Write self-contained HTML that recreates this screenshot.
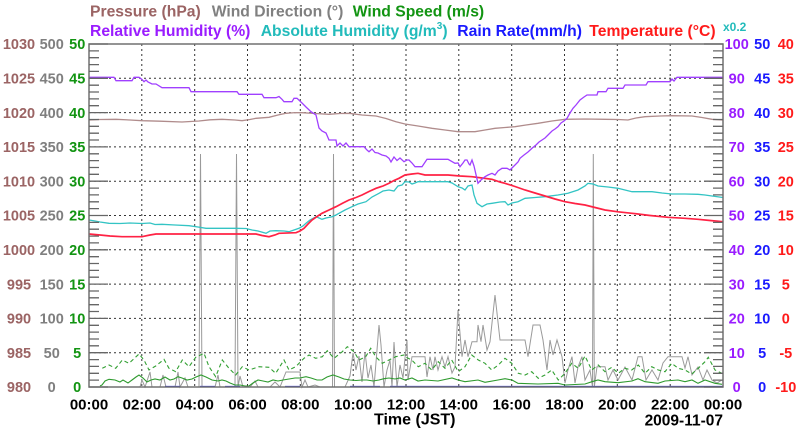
<!DOCTYPE html>
<html><head><meta charset="utf-8"><style>
html,body{margin:0;padding:0;background:#fff;}
svg{display:block;font-family:"Liberation Sans",Arial,sans-serif;font-weight:bold;}
</style></head><body>
<svg width="800" height="434" viewBox="0 0 800 434" xmlns="http://www.w3.org/2000/svg">
<rect width="800" height="434" fill="#fff"/>
<!-- legend -->
<g font-size="15.7">
<text x="90" y="16.5" fill="#9b6464">Pressure (hPa)</text>
<text x="211.7" y="16.5" fill="#808080">Wind Direction (°)</text>
<text x="352.7" y="16.5" fill="#129412">Wind Speed (m/s)</text>
<text x="90" y="36" fill="#9a1cff">Relative Humidity (%)</text>
<text x="260.7" y="36" fill="#22bbbb">Absolute Humidity (g/m<tspan font-size="10" dy="-7">3</tspan><tspan dy="7">)</tspan></text>
<text x="457.3" y="36" fill="#1a1aff">Rain Rate(mm/h)</text>
<text x="589.3" y="36" fill="#ff1a1a">Temperature (°C)</text>
</g>
<text x="723" y="31" font-size="12" fill="#22bbbb">x0.2</text>
<!-- grid -->
<g stroke="#333" stroke-width="1" stroke-dasharray="2,3" fill="none">
<path d="M141.8 44V387M194.7 44V387M247.5 44V387M300.3 44V387M353.2 44V387M406 44V387M458.8 44V387M511.7 44V387M564.5 44V387M617.3 44V387M670.2 44V387"/>
<path d="M89 78.3H723M89 112.6H723M89 146.9H723M89 181.2H723M89 215.5H723M89 249.8H723M89 284.1H723M89 318.4H723M89 352.7H723"/>
</g>
<!-- wind direction -->
<polyline fill="none" stroke="#9a9a9a" stroke-width="1" points="89,387 140,387 142,380 145,387 150,372 152,387 160,387 163,375 166,387 175,387 178,372 180,387 185,378 188,387 199,387 200.5,154 202,387 215,387 218,375 220,387 235,387 236.5,154 238,387 240,376 243,387 250,387 255,381 258,387 270,387 275,382 280,387 286,372 300,372 302,387 305,380 308,387 315,385 320,387 332.5,387 333.5,154 334.5,387 345,387 350,376 353,353 356,370 359,356 362,382 365,352 368,378 371,365 374,387 377,350 379,325 381,345 384,387 387,370 390,360 392,387 394,342 397,387 400,365 403,378 405,358 407,340 408,380 412,356.7 425,356.7 427,377 430,356.7 433,370 435,356.7 438,370 442,356.7 445,367 448,356.7 452,373 455,367 458,310 462,356.7 465,340 468,356.7 472,341.7 477,341.7 478,325 481,341.7 483,325 487,350 490,341.7 495,295 500,340 525,340 528,356.7 533,325 540,325 543,340 547,370 550,340 553,355 557,340 562,356.7 565,383 568,370 572,356.7 575,383 578,367 582,356.7 585,380 590,370 592.5,387 593.3,154 594.3,387 597,366.7 605,366.7 608,380 613,370 618,380 625,367 632,380 638,356.7 642,356.7 646,380 652,370 658,380 663,363 668,356.7 682,356.7 685,368 688,356.7 692,375 698,367 703,380 707,370 712,380 717,383 722,380"/>
<!-- wind speed gust dashed -->
<polyline fill="none" stroke="#33a033" stroke-width="1.1" stroke-dasharray="4,3" points="102.3,368.3 109,365 115.7,368.3 122.3,360 129,363.3 139,354 144,360 149,370 155.7,366 164,359.3 169,368.3 175.7,371.7 182.3,360 189,366.7 195.7,357.3 204,353.3 209,366.7 215.7,376.7 222.3,360 229,368.3 235.7,375 242.3,366.7 249,370 259,366.7 269,367.3 275.7,373.3 284,360 289,370 295.7,366.7 304,358.3 309,355 315.7,358.3 322.3,356.7 327.3,350.7 334,358.3 342.3,351.7 347.3,346.7 354,351.7 359,360 365.7,356.7 370.7,348.3 375.7,356.7 382.3,363.3 389,360 395.7,356.7 404,355 405,356.7 411.7,360 418.3,366.7 425,363.3 431.7,370 438.3,361.7 445,368.3 451.7,360 458.3,371.7 465,366.7 471.7,355 478.3,360 485,363.3 491.7,370 498.3,365 505,358.3 511.7,363.3 518.3,373.3 525,375 531.7,371.7 538.3,378.3 545,375 551.7,370 558.3,380 565,373.3 571.7,363.3 578.3,368.3 585,356 591.7,370 598.3,365 605,371.7 611.7,367.3 618.3,373.3 625,368.3 631.7,370 638.3,365 645,373.3 651.7,366.7 658.3,370 665,371.7 671.7,363.3 678.3,368.3 685,370 691.7,374 698.3,368.3 705,361.7 708.3,357.3 715,370 721.7,373.3"/>
<!-- wind speed solid -->
<polyline fill="none" stroke="#2e9a2e" stroke-width="1.1" points="100,386 102,385 105,381 109,379.3 115,380 120,382 123,380 128,383 132,380 136,377 139,375 143,378 147,382 151,380 155,379 160,380 165,377 170,380 174,379 178,376.7 182,378 187,380 192,379 196,377 201,375 206,377 212,380 218,381 222,380 226,381 230,383 235,385 240,385 245,386 249,386 253,383 258,380 263,381 268,382 273,380 278,381 283,380 289,379 295,378 300,378 306,376.7 311,378 317,380 322,380 327,377 333,375 339,377 344,379 350,380 356,380.5 362,380 367,380 373,381 379,380 384,378.7 389,378 395,379 400,378 405,380 412,378 418,381 425,380 438,381 452,378 458,380 465,381.7 478,380 485,382.3 498,380 505,378.7 512,380 518,383.3 538,384 558,383.3 565,385 585,384 592,381.7 598,380 605,381.7 618,382.7 632,381 638,378.7 645,381.7 658,383.3 665,381 678,380 685,381.7 692,380 698,383.3 705,380 715,383.3 722,384.3"/>
<!-- rain -->
<path d="M165 386.5H180M200 386.5H215M225 386.5H240M285 386.5H300M350 386.5H380M390 386.5H723" stroke="#3333dd" stroke-width="1.3" fill="none"/>
<!-- pressure -->
<polyline fill="none" stroke="#b08c8c" stroke-width="1.3" points="89,120 100,119.5 116,119.3 130,120 142,120.7 160,121.2 182,122 199,121 210,119.8 222,119.3 235,120 242,120.7 250,119.5 256,118.3 269,117.3 278,115 286,113.3 295,112.6 302,112.7 315,113.5 329,114.3 340,113.5 349,113.3 362,115 376,116 386,118.5 396,121.7 405,124 418,126 432,128.3 445,130 458,131.7 475,131.7 485,130 495,128.3 505,127.5 515,126.7 526,125 538,123.3 552,121 565,119.3 585,119 605,119.3 618,119.5 628,120 636,118 645,116.7 660,116 672,115.7 692,116 702,117.5 712,119.3 723,120"/>
<!-- absolute humidity -->
<polyline fill="none" stroke="#33c4c4" stroke-width="1.3" points="89,220 95,221 100,222 109,223.3 120,223.5 130,223 142,223.5 150,223 155,224.5 162,224.3 175,225 189,225.7 198,227 206,228.3 220,228.3 235,228.3 246,228.5 252,230 258,231 266,233.3 270,231 276,230.7 284,231 289,231.7 294,230 299,228.3 303,226 306,223.3 310,220 316,216.7 319,218 322,219.3 326,218 332,216.7 336,215 339,213.3 345,210 352,206.7 358,204 366,201.7 372,197 379,193.3 383,191 389,190 394,191 398,186 402,185 405,181.7 409,182 412,184 415,183 418,181.7 448,181.7 452,183 458,186.7 462,188 465,190 468,186 472,185 474,195 477,203.3 482,206.7 487,204 492,203.3 500,202 505,201.7 508,205 512,203 518,201.7 525,198.3 535,197.5 545,196.7 558,195 568,193.3 578,190 585,186 588,183.3 593,184 598,186 608,187 618,188.3 625,190 632,191.7 652,191.7 662,193 672,194 685,194 698,194.3 705,195 712,196 723,197.5"/>
<!-- temperature -->
<polyline fill="none" stroke="#ff2244" stroke-width="1.7" points="89,234 100,235 110,236 122,236.7 142,236.7 150,235 156,234 200,234 256,234 262,235.5 269,236.7 275,235 279,233.3 296,232.7 300,231 304,228.3 308,224 312,220 317,216.5 322,213.3 329,210 336,206.7 343,203 349,200 356,197.5 362,195 369,191.5 376,188.3 383,186 389,183.3 394,180.5 399,178.3 405,175 412,174 418,173.3 425,175 448,175 460,176 472,176.7 482,178 492,179.3 500,182 505,183.3 515,186.5 525,190 535,193 545,196 555,199 565,201.7 575,203.5 585,205 595,207.5 605,210 618,211.8 632,213.3 650,215.5 668,217.3 685,218.3 698,219.3 710,220.5 723,221.7"/>
<!-- relative humidity -->
<polyline fill="none" stroke="#a040ff" stroke-width="1.3" points="89,77.3 114,77.3 116,80.7 132,80.7 134,77.3 139,77.3 142,79.5 144,81.7 146,80 148,82 152,84 156,84 162,87.7 189,87.7 191,91.7 237,91.7 239,94.3 262,94.3 264,97.7 276,97.7 279,96.5 282,99.3 284,101.7 292,101.7 294,98.3 297,98.3 302,103 306,107 311,111.7 316,115 319,128 322,131 326,133 329,140 336,140 337,146 340,143 343,146 346,143 349,146.7 364,146.7 367,150 369,151.7 372,149 375,152.5 378,153 382,155 386,156 389,158.3 391,162 394,157 397,160.5 400,158 404,161.7 407,160 409,160 412,163 415,166.7 422,166.7 427,159.3 448,159.3 455,163.3 458,163 460,166.7 463,163 465,160 467,160 469,164 470,165 472,160 474,166 478,183.3 481,180 485,176.7 488,175 492,173.3 495,175 498,171 502,168.3 507,168.3 510,170 512,168 515,165 518,162 520,158.3 524,155 528,152 532,148.3 536,145 539,142 542,140 545,138 548,135 552,131 555,129 558,126.7 561,123 564,121 567,118.3 570,113 573,108.3 576,105 580,100 584,97 587,95 597,95 598,91.7 606,91.7 608,88.3 623,88.3 625,85 646,85 648,81.7 670,81.7 672,79 674,81 677,77.3 723,77.3"/>
<!-- frame -->
<rect x="89" y="44" width="634" height="343" fill="none" stroke="#707070" stroke-width="1.5"/>
<!-- ticks -->
<g stroke="#666" stroke-width="1.3" fill="none">
<path d="M89 387h19M89 352.7h19M89 318.4h19M89 284.1h19M89 249.8h19M89 215.5h19M89 181.2h19M89 146.9h19M89 112.6h19M89 78.3h19M89 44h19"/>
<path d="M723 387h-19M723 352.7h-19M723 318.4h-19M723 284.1h-19M723 249.8h-19M723 215.5h-19M723 181.2h-19M723 146.9h-19M723 112.6h-19M723 78.3h-19M723 44h-19"/>
<path d="M89 380.1h10M89 373.3h10M89 366.4h10M89 359.6h10M89 345.8h10M89 339h10M89 332.1h10M89 325.3h10M89 311.5h10M89 304.7h10M89 297.8h10M89 291h10M89 277.2h10M89 270.4h10M89 263.5h10M89 256.7h10M89 242.9h10M89 236.1h10M89 229.2h10M89 222.4h10M89 208.6h10M89 201.8h10M89 194.9h10M89 188.1h10M89 174.3h10M89 167.5h10M89 160.6h10M89 153.8h10M89 140h10M89 133.2h10M89 126.3h10M89 119.5h10M89 105.7h10M89 98.9h10M89 92h10M89 85.2h10M89 71.4h10M89 64.6h10M89 57.7h10M89 50.9h10"/>
<path d="M723 380.1h-10M723 373.3h-10M723 366.4h-10M723 359.6h-10M723 345.8h-10M723 339h-10M723 332.1h-10M723 325.3h-10M723 311.5h-10M723 304.7h-10M723 297.8h-10M723 291h-10M723 277.2h-10M723 270.4h-10M723 263.5h-10M723 256.7h-10M723 242.9h-10M723 236.1h-10M723 229.2h-10M723 222.4h-10M723 208.6h-10M723 201.8h-10M723 194.9h-10M723 188.1h-10M723 174.3h-10M723 167.5h-10M723 160.6h-10M723 153.8h-10M723 140h-10M723 133.2h-10M723 126.3h-10M723 119.5h-10M723 105.7h-10M723 98.9h-10M723 92h-10M723 85.2h-10M723 71.4h-10M723 64.6h-10M723 57.7h-10M723 50.9h-10"/>
</g>
<!-- left labels -->
<g font-size="14.5" text-anchor="middle">
<g fill="#9b6464">
<text x="19" y="49.2">1030</text><text x="19" y="83.5">1025</text><text x="19" y="117.8">1020</text><text x="19" y="152.1">1015</text><text x="19" y="186.4">1010</text><text x="19" y="220.7">1005</text><text x="19" y="255">1000</text><text x="19" y="289.3">995</text><text x="19" y="323.6">990</text><text x="19" y="357.9">985</text><text x="19" y="392.2">980</text>
</g>
<g fill="#7f7f7f">
<text x="51.7" y="49.2">500</text><text x="51.7" y="83.5">450</text><text x="51.7" y="117.8">400</text><text x="51.7" y="152.1">350</text><text x="51.7" y="186.4">300</text><text x="51.7" y="220.7">250</text><text x="51.7" y="255">200</text><text x="51.7" y="289.3">150</text><text x="51.7" y="323.6">100</text><text x="51.7" y="357.9">50</text><text x="51.7" y="392.2">0</text>
</g>
<g fill="#129412">
<text x="77.2" y="49.2">50</text><text x="77.2" y="83.5">45</text><text x="77.2" y="117.8">40</text><text x="77.2" y="152.1">35</text><text x="77.2" y="186.4">30</text><text x="77.2" y="220.7">25</text><text x="77.2" y="255">20</text><text x="77.2" y="289.3">15</text><text x="77.2" y="323.6">10</text><text x="77.2" y="357.9">5</text><text x="77.2" y="392.2">0</text>
</g>
<!-- right labels -->
<g fill="#9a1cff">
<text x="736.7" y="49.2">100</text><text x="736.7" y="83.5">90</text><text x="736.7" y="117.8">80</text><text x="736.7" y="152.1">70</text><text x="736.7" y="186.4">60</text><text x="736.7" y="220.7">50</text><text x="736.7" y="255">40</text><text x="736.7" y="289.3">30</text><text x="736.7" y="323.6">20</text><text x="736.7" y="357.9">10</text><text x="736.7" y="392.2">0</text>
</g>
<g fill="#1a1aff">
<text x="762.2" y="49.2">50</text><text x="762.2" y="83.5">45</text><text x="762.2" y="117.8">40</text><text x="762.2" y="152.1">35</text><text x="762.2" y="186.4">30</text><text x="762.2" y="220.7">25</text><text x="762.2" y="255">20</text><text x="762.2" y="289.3">15</text><text x="762.2" y="323.6">10</text><text x="762.2" y="357.9">5</text><text x="762.2" y="392.2">0</text>
</g>
<g fill="#ff1a1a">
<text x="785.8" y="49.2">40</text><text x="785.8" y="83.5">35</text><text x="785.8" y="117.8">30</text><text x="785.8" y="152.1">25</text><text x="785.8" y="186.4">20</text><text x="785.8" y="220.7">15</text><text x="785.8" y="255">10</text><text x="785.8" y="289.3">5</text><text x="785.8" y="323.6">0</text><text x="785.8" y="357.9">-5</text><text x="785.8" y="392.2">-10</text>
</g>
</g>
<!-- bottom labels -->
<g font-size="15" text-anchor="middle" fill="#000">
<text x="89" y="409.5">00:00</text><text x="141.8" y="409.5">02:00</text><text x="194.7" y="409.5">04:00</text><text x="247.5" y="409.5">06:00</text><text x="300.3" y="409.5">08:00</text><text x="353.2" y="409.5">10:00</text><text x="406" y="409.5">12:00</text><text x="458.8" y="409.5">14:00</text><text x="511.7" y="409.5">16:00</text><text x="564.5" y="409.5">18:00</text><text x="617.3" y="409.5">20:00</text><text x="670.2" y="409.5">22:00</text><text x="723" y="409.5">00:00</text>
</g>
<text x="374" y="424.5" font-size="16" fill="#000">Time (JST)</text>
<text x="723" y="425.5" font-size="15.5" fill="#000" text-anchor="end">2009-11-07</text>
</svg>
</body></html>
